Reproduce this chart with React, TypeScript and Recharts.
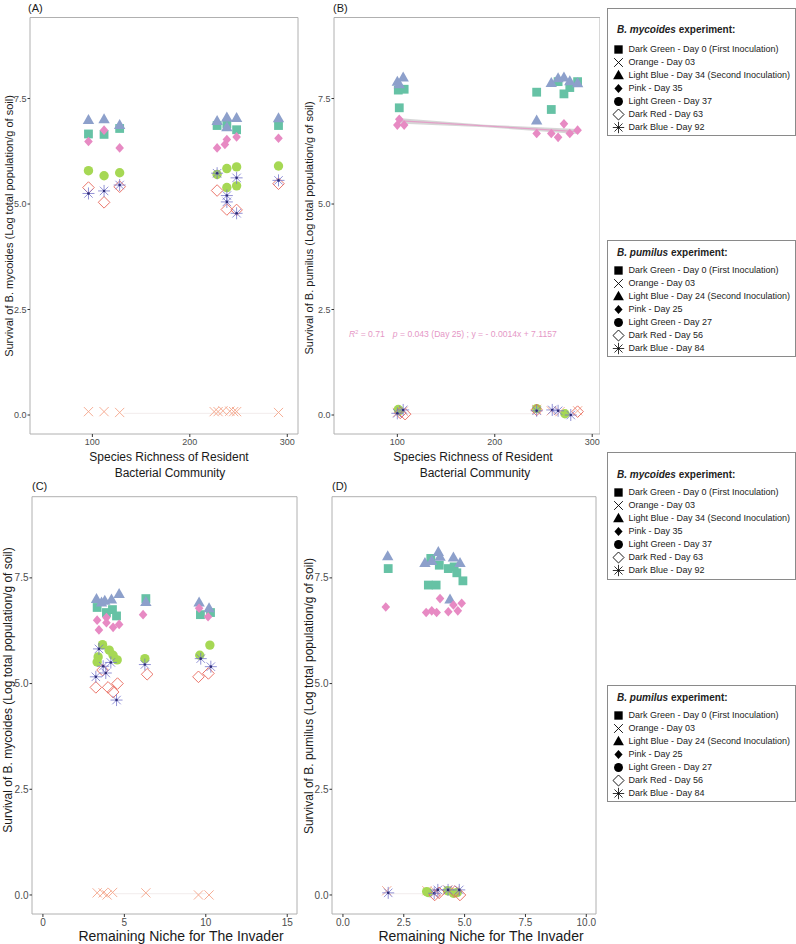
import React from 'react'
import { ComposedChart, Scatter, Line, Area, XAxis, YAxis, ReferenceArea } from 'recharts'

type Pt = [number, number]
type Kind = 'sq' | 'x' | 'tri' | 'dia' | 'cir' | 'odia' | 'ast'

const FONT = "'Liberation Sans', Arial, Helvetica, sans-serif"

// marker colours (Set2-like)
const COLORS: Record<Kind, string> = {
  sq: '#66c2a5',
  x: '#f4a58a',
  tri: '#8da0cb',
  dia: '#e78ac3',
  cir: '#a6d854',
  odia: '#e8675a',
  ast: '#7676cc',
}
const KINDS: Kind[] = ['sq', 'x', 'tri', 'dia', 'cir', 'odia', 'ast']

// ---- (A) B. mycoides vs species richness
const aDay0: Pt[] = [[96, 6.66], [112, 6.65], [128, 6.79], [228, 6.86], [238, 6.9], [248, 6.76], [291, 6.86]]
const aDay3: Pt[] = [[96, 0.08], [112, 0.08], [128, 0.06], [225, 0.08], [229, 0.08], [234, 0.1], [241, 0.09], [245, 0.08], [248, 0.08], [291, 0.06]]
const aDay34: Pt[] = [[96, 6.99], [112, 7.01], [128, 6.87], [228, 6.97], [238, 7.05], [238, 6.82], [248, 7.04], [291, 7.03]]
const aDay35: Pt[] = [[96, 6.48], [112, 6.75], [128, 6.33], [228, 6.33], [236, 6.41], [238, 6.53], [248, 6.59], [291, 6.56]]
const aDay37: Pt[] = [[96, 5.79], [112, 5.67], [128, 5.74], [228, 5.7], [238, 5.84], [248, 5.88], [238, 5.39], [248, 5.43], [291, 5.9]]
const aDay63: Pt[] = [[96, 5.39], [112, 5.04], [128, 5.41], [228, 5.32], [238, 4.87], [248, 4.86], [291, 5.48]]
const aDay92: Pt[] = [[96, 5.25], [112, 5.31], [128, 5.45], [228, 5.73], [238, 5.2], [238, 5.05], [248, 5.62], [248, 4.78], [291, 5.56]]
const aFit0: Pt[] = [[132, 0.04], [290, 0.04]]

// ---- (B) B. pumilus vs species richness
const bDay0: Pt[] = [[101, 7.7], [107, 7.72], [102, 7.28], [243, 7.65], [258, 7.24], [265, 7.9], [271, 7.61], [277, 7.76], [285, 7.9]]
const bDay3: Pt[] = [[100, 0.06], [106, 0.09], [243, 0.13], [258, 0.1], [267, 0.08], [285, 0.1]]
const bDay24: Pt[] = [[100, 7.9], [102, 7.84], [106, 8.0], [243, 6.98], [258, 7.87], [265, 7.98], [271, 8.0], [277, 7.91], [285, 7.86]]
const bDay25: Pt[] = [[100, 6.87], [102, 7.01], [107, 6.87], [243, 6.67], [258, 6.67], [265, 6.58], [271, 6.9], [277, 6.67], [285, 6.75]]
const bDay27: Pt[] = [[101, 0.13], [102, 0.1], [243, 0.15], [272, 0.03]]
const bDay56: Pt[] = [[103, 0.05], [108, 0.02], [243, 0.12], [285, 0.08]]
const bDay84: Pt[] = [[100, 0.04], [106, 0.12], [243, 0.1], [259, 0.12], [265, 0.1], [278, 0.0]]
const bFit0: Pt[] = [[110, 0.03], [240, 0.03]]
const bFitX = [100, 190, 285]
const bFitY = [6.976, 6.85, 6.717]
const bFitLo = [6.91, 6.82, 6.66]
const bFitHi = [7.04, 6.88, 6.78]

// ---- (C) B. mycoides vs remaining niche
const cDay0: Pt[] = [[3.33, 6.8], [3.9, 6.68], [4.27, 6.75], [4.52, 6.6], [6.32, 7.01], [9.67, 6.63], [10.29, 6.68]]
const cDay3: Pt[] = [[3.33, 0.05], [3.7, 0.05], [3.94, 0.0], [4.28, 0.06], [6.32, 0.05], [9.55, 0.0], [10.2, 0.0]]
const cDay34: Pt[] = [[3.29, 7.0], [3.6, 6.92], [3.8, 6.96], [4.21, 6.99], [4.68, 7.12], [6.32, 6.93], [9.59, 6.92], [10.2, 6.78]]
const cDay35: Pt[] = [[3.33, 6.5], [3.44, 6.27], [3.9, 6.56], [3.9, 6.44], [4.31, 6.33], [4.68, 6.4], [6.15, 6.63], [9.59, 6.78], [10.14, 6.58]]
const cDay37: Pt[] = [[3.66, 5.92], [3.39, 5.63], [3.33, 5.51], [4.07, 5.79], [4.31, 5.67], [4.56, 5.56], [6.26, 5.59], [9.63, 5.67], [10.25, 5.91]]
const cDay63: Pt[] = [[3.25, 4.91], [3.66, 5.32], [4.0, 4.91], [4.31, 4.8], [4.58, 5.0], [6.4, 5.22], [9.55, 5.16], [10.16, 5.24]]
const cDay92: Pt[] = [[3.25, 5.16], [3.44, 5.82], [3.7, 5.41], [3.86, 5.25], [4.17, 5.5], [4.52, 4.61], [6.26, 5.45], [9.69, 5.59], [10.31, 5.4]]
const cFit0: Pt[] = [[4.4, 0.03], [10.0, 0.03]]

// ---- (D) B. pumilus vs remaining niche
const dDay0: Pt[] = [[1.86, 7.72], [3.61, 7.96], [3.51, 7.33], [3.83, 7.33], [3.96, 7.8], [4.33, 7.72], [4.57, 7.76], [4.68, 7.62], [4.93, 7.43]]
const dDay3: Pt[] = [[1.8, 0.1], [3.45, 0.1], [3.8, 0.08], [4.3, 0.12], [4.6, 0.1]]
const dDay24: Pt[] = [[1.84, 8.01], [3.37, 7.85], [3.65, 7.9], [3.92, 8.11], [3.99, 8.0], [4.54, 7.98], [4.81, 7.85], [4.4, 6.99]]
const dDay25: Pt[] = [[1.76, 6.81], [3.42, 6.68], [3.65, 6.72], [3.85, 6.68], [3.99, 7.01], [4.33, 6.7], [4.54, 6.86], [4.72, 6.72], [4.88, 6.9]]
const dDay27: Pt[] = [[3.44, 0.08], [3.5, 0.06], [4.3, 0.1], [4.54, 0.04], [4.7, 0.06]]
const dDay56: Pt[] = [[3.77, 0.0], [3.95, 0.05], [4.6, 0.08], [4.81, 0.0]]
const dDay84: Pt[] = [[1.86, 0.05], [3.75, 0.04], [3.9, 0.12], [4.32, 0.12], [4.78, 0.12]]
const dFit0: Pt[] = [[1.9, 0.03], [4.8, 0.03]]

const yTicks = [0, 2.5, 5, 7.5]
const yDomain: [number, number] = [-0.45, 9.42]

const legendMycoides = [
  'Dark Green - Day 0 (First Inoculation)',
  'Orange - Day 03',
  'Light Blue - Day 34 (Second Inoculation)',
  'Pink - Day 35',
  'Light Green - Day 37',
  'Dark Red - Day 63',
  'Dark Blue - Day 92',
]
const legendPumilus = [
  'Dark Green - Day 0 (First Inoculation)',
  'Orange - Day 03',
  'Light Blue - Day 24 (Second Inoculation)',
  'Pink - Day 25',
  'Light Green - Day 27',
  'Dark Red - Day 56',
  'Dark Blue - Day 84',
]

const toXY = (pts: Pt[]) => pts.map(([x, y]) => ({ x, y }))

function Mark({ kind, cx, cy, color, s = 1 }: { kind: Kind; cx: number; cy: number; color: string; s?: number }) {
  if (cx == null || cy == null) return null
  switch (kind) {
    case 'sq':
      return <rect x={cx - 4.4 * s} y={cy - 4.4 * s} width={8.8 * s} height={8.8 * s} fill={color} />
    case 'x':
      return (
        <g stroke={color} strokeWidth={0.9}>
          <line x1={cx - 4.6 * s} y1={cy - 4.6 * s} x2={cx + 4.6 * s} y2={cy + 4.6 * s} />
          <line x1={cx - 4.6 * s} y1={cy + 4.6 * s} x2={cx + 4.6 * s} y2={cy - 4.6 * s} />
        </g>
      )
    case 'tri':
      return <polygon points={`${cx},${cy - 6 * s} ${cx + 5.7 * s},${cy + 4 * s} ${cx - 5.7 * s},${cy + 4 * s}`} fill={color} />
    case 'dia':
      return <polygon points={`${cx},${cy - 4.8 * s} ${cx + 4.3 * s},${cy} ${cx},${cy + 4.8 * s} ${cx - 4.3 * s},${cy}`} fill={color} />
    case 'cir':
      return <circle cx={cx} cy={cy} r={4.7 * s} fill={color} />
    case 'odia':
      return (
        <polygon
          points={`${cx},${cy - 5.8 * s} ${cx + 5.8 * s},${cy} ${cx},${cy + 5.8 * s} ${cx - 5.8 * s},${cy}`}
          fill="none"
          stroke={color}
          strokeWidth={0.9}
        />
      )
    case 'ast': {
      const r = 6 * s
      const d = r * 0.7071
      return (
        <g stroke={color} strokeWidth={0.8}>
          <line x1={cx - r} y1={cy} x2={cx + r} y2={cy} />
          <line x1={cx} y1={cy - r} x2={cx} y2={cy + r} />
          <line x1={cx - d} y1={cy - d} x2={cx + d} y2={cy + d} />
          <line x1={cx - d} y1={cy + d} x2={cx + d} y2={cy - d} />
          {color !== '#000' && <circle cx={cx} cy={cy} r={1.3} fill="#2e2e78" stroke="none" />}
        </g>
      )
    }
  }
  return null
}

interface PanelProps {
  left: number
  top: number
  width: number
  height: number
  margin: { top: number; right: number; bottom: number; left: number }
  yWidth: number
  xDomain: [number, number]
  xTicks: number[]
  xFmt: (v: number) => string
  fontSize: number
  series: Pt[][]
  faint: Pt[]
  band?: { x: number; y: number[] }[]
  fit?: { x: number; y: number }[]
}

function Panel(p: PanelProps) {
  const tick = { fill: '#4d4d4d', fontSize: p.fontSize, fontFamily: FONT }
  return (
    <div style={{ position: 'absolute', left: p.left, top: p.top }}>
      <ComposedChart width={p.width} height={p.height} margin={p.margin}>
        <XAxis
          type="number"
          dataKey="x"
          domain={p.xDomain}
          ticks={p.xTicks}
          interval={0}
          tickFormatter={p.xFmt}
          allowDataOverflow
          axisLine={false}
          tickLine={{ stroke: '#333' }}
          tickSize={3}
          tick={tick}
          height={20}
        />
        <YAxis
          type="number"
          dataKey="y"
          domain={yDomain}
          ticks={yTicks}
          interval={0}
          tickFormatter={(v: number) => v.toFixed(1)}
          allowDataOverflow
          axisLine={false}
          tickLine={{ stroke: '#333' }}
          tickSize={2.5}
          tickMargin={1}
          tick={tick}
          width={p.yWidth}
        />
        <ReferenceArea
          x1={p.xDomain[0]}
          x2={p.xDomain[1]}
          y1={yDomain[0]}
          y2={yDomain[1]}
          fill="none"
          stroke="#b0b0b0"
          strokeWidth={1}
        />
        <Line data={toXY(p.faint)} dataKey="y" stroke="#f2ecec" strokeWidth={1} dot={false} isAnimationActive={false} />
        {p.band && (
          <Area data={p.band} dataKey="y" stroke="none" fill="#c4c4c4" fillOpacity={0.7} isAnimationActive={false} />
        )}
        {p.fit && (
          <Line data={p.fit} dataKey="y" stroke="#e3a0c8" strokeWidth={1.2} dot={false} isAnimationActive={false} />
        )}
        {p.series.map((s, i) => {
          const k = KINDS[i]
          return (
            <Scatter
              key={k}
              data={toXY(s)}
              dataKey="y"
              isAnimationActive={false}
              shape={(sp: any) => <Mark kind={k} cx={sp.cx} cy={sp.cy} color={COLORS[k]} />}
            />
          )
        })}
      </ComposedChart>
    </div>
  )
}

function LegendBox({ top, height, titleY, rowY, species, items }: { top: number; height: number; titleY: number; rowY: number; species: string; items: string[] }) {
  return (
    <div
      style={{
        position: 'absolute',
        left: 607,
        top,
        width: 189,
        height,
        border: '1px solid #8a8a8a',
        boxSizing: 'border-box',
        background: '#fff',
        fontFamily: FONT,
        color: '#222',
      }}
    >
      <div style={{ position: 'absolute', left: 9, top: titleY - 7, fontSize: 10, fontWeight: 'bold', lineHeight: '14px', whiteSpace: 'nowrap' }}>
        <i>{species}</i> experiment:
      </div>
      {items.map((t, i) => (
        <div key={i} style={{ position: 'absolute', left: 0, top: rowY + i * 13 - 6.5, height: 13, whiteSpace: 'nowrap' }}>
          <svg width={20} height={13} style={{ position: 'absolute', left: 0, top: 0 }}>
            <Mark kind={KINDS[i]} cx={10.5} cy={6.5} color="#000" s={0.95} />
          </svg>
          <span style={{ position: 'absolute', left: 20.5, top: 0, fontSize: 9, lineHeight: '13px' }}>{t}</span>
        </div>
      ))}
    </div>
  )
}

export default function App() {
  const bBand = bFitX.map((x, i) => ({ x, y: [bFitLo[i], bFitHi[i]] }))
  const bFit = bFitX.map((x, i) => ({ x, y: bFitY[i] }))
  const ink = '#1a1a1a'
  return (
    <div style={{ position: 'absolute', left: 0, top: 0, width: 796, height: 944, background: '#fff', overflow: 'hidden', fontFamily: FONT }}>
      <Panel
        left={0}
        top={0}
        width={300}
        height={460}
        margin={{ top: 17.5, right: 2, bottom: 6, left: 0 }}
        yWidth={30}
        xDomain={[36, 311]}
        xTicks={[100, 200, 300]}
        xFmt={(v) => String(v)}
        fontSize={9}
        series={[aDay0, aDay3, aDay34, aDay35, aDay37, aDay63, aDay92]}
        faint={aFit0}
      />
      <Panel
        left={300}
        top={0}
        width={300}
        height={460}
        margin={{ top: 17.5, right: 0, bottom: 6, left: 0 }}
        yWidth={34}
        xDomain={[35, 308]}
        xTicks={[100, 200, 300]}
        xFmt={(v) => String(v)}
        fontSize={9}
        series={[bDay0, bDay3, bDay24, bDay25, bDay27, bDay56, bDay84]}
        faint={bFit0}
        band={bBand}
        fit={bFit}
      />
      <Panel
        left={0}
        top={460}
        width={300}
        height={484}
        margin={{ top: 36.7, right: 3, bottom: 10, left: 0 }}
        yWidth={32}
        xDomain={[-0.67, 15.6]}
        xTicks={[0, 5, 10, 15]}
        xFmt={(v) => String(v)}
        fontSize={10}
        series={[cDay0, cDay3, cDay34, cDay35, cDay37, cDay63, cDay92]}
        faint={cFit0}
      />
      <Panel
        left={300}
        top={460}
        width={300}
        height={484}
        margin={{ top: 36.7, right: 4, bottom: 10, left: 0 }}
        yWidth={32}
        xDomain={[-0.45, 10.4]}
        xTicks={[0, 2.5, 5, 7.5, 10]}
        xFmt={(v) => v.toFixed(1)}
        fontSize={10}
        series={[dDay0, dDay3, dDay24, dDay25, dDay27, dDay56, dDay84]}
        faint={dFit0}
      />

      <svg width={796} height={944} style={{ position: 'absolute', left: 0, top: 0, pointerEvents: 'none' }} fontFamily={FONT}>
        <g fill={ink} fontSize={11}>
          <text x={28} y={12}>(A)</text>
          <text x={333} y={12}>(B)</text>
          <text x={32} y={490}>(C)</text>
          <text x={332} y={490}>(D)</text>
        </g>
        <g fill={ink} fontSize={11} textAnchor="middle" dominantBaseline="central">
          <text x={9} y={226} transform="rotate(-90 9 226)">Survival of B. mycoides (Log total population/g of soil)</text>
          <text x={309} y={228} transform="rotate(-90 309 228)">Survival of B. pumilus (Log total population/g of soil)</text>
        </g>
        <g fill={ink} fontSize={12} textAnchor="middle" dominantBaseline="central">
          <text x={8} y={690} transform="rotate(-90 8 690)">Survival of B. mycoides (Log total population/g of soil)</text>
          <text x={308.5} y={696} transform="rotate(-90 308.5 696)">Survival of B. pumilus (Log total population/g of soil)</text>
          <text x={169} y={457}>Species Richness of Resident</text>
          <text x={170} y={473}>Bacterial Community</text>
          <text x={473} y={457}>Species Richness of Resident</text>
          <text x={475} y={473}>Bacterial Community</text>
        </g>
        <g fill={ink} fontSize={14} textAnchor="middle" dominantBaseline="central">
          <text x={181} y={935.5}>Remaining Niche for The Invader</text>
          <text x={481} y={935.5}>Remaining Niche for The Invader</text>
        </g>
        <text x={349} y={337} fontSize={8.6} fill="#e597c6">
          <tspan fontStyle="italic">R</tspan>
          <tspan fontSize={5.5} dy={-3}>2</tspan>
          <tspan dy={3}> = 0.71</tspan>
          <tspan dx={8} fontStyle="italic">p</tspan>
          <tspan> = 0.043 (Day 25) ; y = - 0.0014x + 7.1157</tspan>
        </text>
      </svg>

      <LegendBox top={8} height={128} titleY={21} rowY={40} species="B. mycoides" items={legendMycoides} />
      <LegendBox top={240} height={117} titleY={12} rowY={29} species="B. pumilus" items={legendPumilus} />
      <LegendBox top={452} height={128} titleY={22} rowY={39} species="B. mycoides" items={legendMycoides} />
      <LegendBox top={685} height={117} titleY={12} rowY={29} species="B. pumilus" items={legendPumilus} />
    </div>
  )
}
